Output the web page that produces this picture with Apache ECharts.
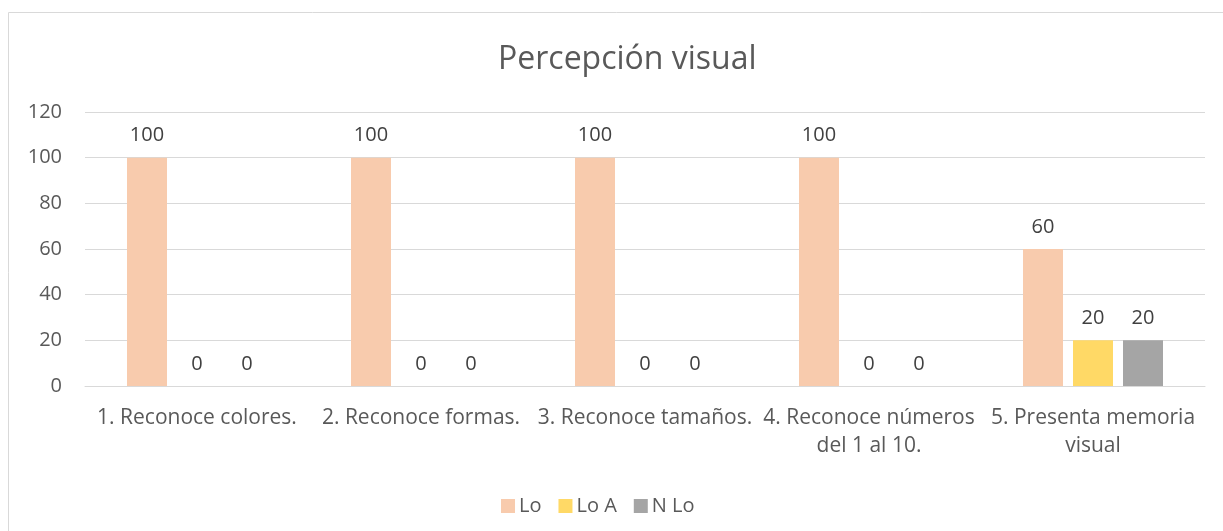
<!DOCTYPE html>
<html><head><meta charset="utf-8">
<script src="https://cdn.jsdelivr.net/npm/echarts@6/dist/echarts.min.js"></script>
<style>html,body{margin:0;padding:0;background:#fff}#c{width:1223px;height:531px}</style>
</head><body><div id="c"></div>
<script>
const categories = ["1. Reconoce colores.", "2. Reconoce formas.", "3. Reconoce tamaños.", "4. Reconoce números\ndel 1 al 10.", "5. Presenta memoria\nvisual"];
const seriesNames = ["Lo", "Lo A", "N Lo"];
const loValues = [100, 100, 100, 100, 60];
const loAValues = [0, 0, 0, 0, 20];
const nLoValues = [0, 0, 0, 0, 20];
const yTicks = [0, 20, 40, 60, 80, 100, 120];
const colors = ["#F8CBAD", "#FFD966", "#A5A5A5"];
const FONT = "Open Sans";
const FS = 20;
const chart = echarts.init(document.getElementById('c'));
const mk = (name, data, color) => ({
  name, type: 'bar', data, barGap: '25%', barCategoryGap: '37.5%',
  itemStyle: {color},
  label: {show: true, position: 'top', distance: 12, color: '#404040', fontSize: FS, fontFamily: FONT},
  emphasis: {disabled: true}
});
chart.setOption({
  animation: false,
  textStyle: {fontFamily: FONT},
  graphic: [{type: 'rect', shape: {x: 8.5, y: 12.5, width: 1240, height: 530}, style: {fill: 'none', stroke: '#d9d9d9', lineWidth: 1}, silent: true}],
  title: {text: 'Percepción visual', left: 493, top: 39, textStyle: {fontSize: 32, fontWeight: 'normal', color: '#595959', fontFamily: FONT}},
  legend: {data: seriesNames, bottom: 10, left: 496, itemWidth: 14, itemHeight: 14, itemGap: 17, icon: 'rect',
    textStyle: {fontSize: FS, color: '#595959', fontFamily: FONT, padding: [0, 0, 0, -1]}},
  grid: {left: 85, right: 18, top: 112, bottom: 145, containLabel: false},
  xAxis: {type: 'category', data: categories,
    axisLine: {lineStyle: {color: '#d9d9d9'}}, axisTick: {show: false},
    axisLabel: {color: '#595959', fontSize: 21, fontFamily: FONT, margin: 18, lineHeight: 28, interval: 0}},
  yAxis: {type: 'value', min: yTicks[0], max: yTicks[yTicks.length-1], interval: 20,
    axisLine: {show: false}, axisTick: {show: false},
    splitLine: {lineStyle: {color: '#d9d9d9'}},
    axisLabel: {color: '#595959', fontSize: FS, fontFamily: FONT, margin: 23}},
  series: [mk(seriesNames[0], loValues, colors[0]), mk(seriesNames[1], loAValues, colors[1]), mk(seriesNames[2], nLoValues, colors[2])]
});
</script></body></html>
